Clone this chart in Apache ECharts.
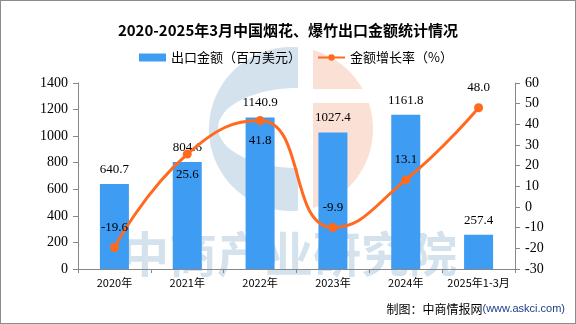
<!DOCTYPE html>
<html>
<head>
<meta charset="utf-8">
<script src="https://cdn.jsdelivr.net/npm/echarts@6/dist/echarts.min.js"></script>
<style>
html,body{margin:0;padding:0;background:#fff;}
#chart{width:576px;height:324px;box-sizing:border-box;border:1px solid #8c8c8c;}
</style>
</head>
<body>
<div id="chart"></div>
<script>
// 出口数据：2020–2025年1-3月
var categories = ['2020年', '2021年', '2022年', '2023年', '2024年', '2025年1-3月'];
var exportValue = [640.7, 804.6, 1140.9, 1027.4, 1161.8, 257.4];
var growthRate = [-19.6, 25.6, 41.8, -9.9, 13.1, 48.0];
var leftTicks = [0, 1400, 200];
var rightTicks = [-30, 60, 10];

// 增长率标签放在点的上方或下方，避免与柱顶数值重叠
var ratePos = ['top', 'bottom', 'bottom', 'top', 'top', 'top'];

var serifFont = '"Liberation Serif","DejaVu Serif",serif';
var sansFont = '"Noto Sans CJK SC","Noto Sans",sans-serif';

var markBlue = 'rgba(80,140,180,0.25)';
var markSalmon = 'rgba(240,130,90,0.25)';

// 水印标志的几何形状（圆形被切分为蓝色“C”和橙色右半部分）
function arc(cx, cy, rx, ry, a0, a1, n) {
  var pts = [];
  for (var i = 0; i <= n; i++) {
    var a = a0 + (a1 - a0) * i / n;
    pts.push([cx + rx * Math.cos(a), cy + ry * Math.sin(a)]);
  }
  return pts;
}
var LC = {cx: 290, cy: 128, r: 82, split: 297, gapL: 312, bandTop: 88, bandBot: 102};
function logoShapes() {
  var c = LC, r = c.r;
  var t = Math.acos((c.split - c.cx) / r);
  var blue = arc(c.cx, c.cy, r, r, -t, -(2 * Math.PI - t), 60)
    .concat(arc(c.split, c.cy - 1, 80, 40, Math.PI / 2, Math.PI * 3 / 2, 40));
  var dx0 = c.gapL - c.cx;
  var yTop = Math.sqrt(r * r - dx0 * dx0);
  var a1 = Math.atan2(-yTop, dx0);
  var a2 = Math.atan2(c.bandTop - c.cy, Math.sqrt(r * r - Math.pow(c.bandTop - c.cy, 2)));
  var salmonTop = [[c.gapL, c.bandTop]].concat(arc(c.cx, c.cy, r, r, a1, a2, 30));
  var b1 = Math.atan2(c.bandBot - c.cy, Math.sqrt(r * r - Math.pow(c.bandBot - c.cy, 2)));
  var salmonBot = [[c.gapL, c.bandBot]].concat(arc(c.cx, c.cy, r, r, b1, -a1, 40));
  return [
    {type: 'polygon', shape: {points: blue}, style: {fill: markBlue}},
    {type: 'polygon', shape: {points: salmonTop}, style: {fill: markSalmon}},
    {type: 'polygon', shape: {points: salmonBot}, style: {fill: markSalmon}}
  ];
}

var chart = echarts.init(document.getElementById('chart'));
chart.setOption({
  animation: false,
  title: {
    text: '2020-2025年3月中国烟花、爆竹出口金额统计情况',
    left: 'center',
    top: 17,
    textStyle: {fontSize: 15, fontWeight: 'bold', color: '#000', fontFamily: sansFont}
  },
  legend: {
    top: 45,
    left: 133,
    itemGap: 16,
    itemWidth: 27,
    itemHeight: 8,
    textStyle: {fontSize: 13, color: '#000', fontFamily: sansFont},
    data: [
      {name: '出口金额（百万美元）', icon: 'rect'},
      {name: '金额增长率（%）'}
    ]
  },
  graphic: [
    {
      type: 'group', z: 100, silent: true,
      children: logoShapes().concat([
        {type: 'text',
          style: {x: 120, y: 229, text: '中商产业研究院', font: 'bold 48px ' + sansFont,
            fill: markBlue, verticalAlign: 'top'}}
      ])
    },
    {
      type: 'text', right: 10, bottom: 8,
      style: {
        text: '制图：中商情报网{u|(www.askci.com)}',
        rich: {u: {fill: '#1f3c88', font: '11px "Liberation Sans",sans-serif'}},
        font: '12px ' + sansFont, fill: '#000'
      }
    }
  ],
  grid: {left: 77, right: 60, top: 82, bottom: 54, containLabel: false},
  xAxis: {
    type: 'category',
    data: categories,
    axisLine: {lineStyle: {color: '#888'}},
    axisTick: {show: true, length: 4, lineStyle: {color: '#888'}},
    axisLabel: {color: '#000', fontSize: 11, fontFamily: sansFont, margin: 8, interval: 0}
  },
  yAxis: [
    {
      type: 'value', min: leftTicks[0], max: leftTicks[1], interval: leftTicks[2],
      axisLine: {show: true, lineStyle: {color: '#888'}},
      axisTick: {show: true, length: 5, lineStyle: {color: '#888'}},
      splitLine: {show: false},
      axisLabel: {color: '#000', fontSize: 14, fontFamily: serifFont, margin: 10,
        formatter: function (v) { return String(v); }}
    },
    {
      type: 'value', min: rightTicks[0], max: rightTicks[1], interval: rightTicks[2],
      axisLine: {show: true, lineStyle: {color: '#888'}},
      axisTick: {show: true, length: 5, lineStyle: {color: '#888'}},
      splitLine: {show: false},
      axisLabel: {color: '#000', fontSize: 14, fontFamily: serifFont, margin: 10,
        formatter: function (v) { return String(v); }}
    }
  ],
  series: [
    {
      name: '出口金额（百万美元）',
      type: 'bar',
      data: exportValue,
      barWidth: 29,
      itemStyle: {color: '#3e9cf3'},
      label: {
        show: true, position: 'top', distance: 8,
        color: '#000', fontSize: 13, fontFamily: serifFont,
        formatter: function (p) { return p.value.toFixed(1); }
      }
    },
    {
      name: '金额增长率（%）',
      type: 'line',
      yAxisIndex: 1,
      smooth: 0.5,
      data: growthRate.map(function (v, i) {
        return {value: v, label: {position: ratePos[i]}};
      }),
      symbol: 'circle',
      symbolSize: 9,
      lineStyle: {color: '#ff6a1f', width: 3},
      itemStyle: {color: '#ff6a1f'},
      label: {
        show: true, distance: 9,
        color: '#000', fontSize: 13, fontFamily: serifFont,
        formatter: function (p) { return p.value.toFixed(1); }
      }
    }
  ]
});
</script>
</body>
</html>
